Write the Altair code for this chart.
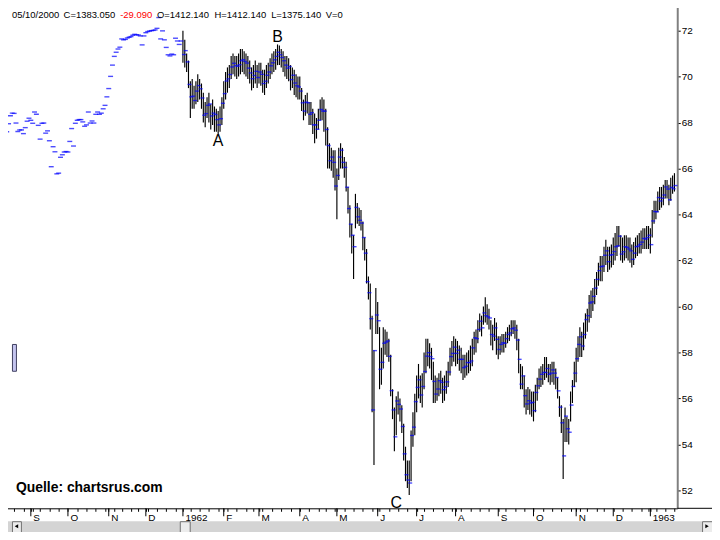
import json
import altair as alt
import pandas as pd

# ---------------- data ----------------
HOLIDAYS = ["1961-09-04", "1961-11-07", "1961-11-23", "1961-12-25",
            "1962-02-22", "1962-04-20", "1962-05-30", "1962-07-04",
            "1962-09-03", "1962-11-06", "1962-11-22", "1962-12-25", "1963-01-01"]

# Aug 11 - Dec 29 1961: closes only (blue dashes)
CLOSE_1961 = [67.71, 67.55, 67.60, 67.95, 68.30, 68.41, 68.40, 67.98, 67.61, 67.68,
              67.68, 67.52, 67.78, 68.06, 68.19, 68.10, 67.97, 68.46, 68.36, 67.88,
              67.28, 67.97, 67.98, 67.54, 67.64, 67.21, 66.08, 66.95, 66.73, 65.77,
              65.80, 66.49, 66.60, 66.72, 66.74, 66.72, 67.18, 67.74, 66.98, 67.97,
              68.10, 68.13, 68.13, 68.03, 67.84, 67.90, 68.46, 67.98, 68.07, 67.98,
              68.36, 68.46, 68.36, 68.41, 68.60, 68.75, 69.12, 69.48, 70.01, 70.50,
              70.88, 71.06, 71.20, 71.28, 71.64, 71.60, 71.62, 71.68, 71.71, 71.74,
              71.80, 71.84, 71.82, 71.81, 71.77, 71.38, 71.77, 71.91, 71.96, 71.98,
              72.00, 72.01, 72.03, 72.10, 72.57, 71.64, 71.99, 71.60, 71.27, 70.95,
              70.90, 70.98, 70.95, 71.67, 71.55, 71.40, 71.55]

C_1962_01 = [70.96, 71.13, 70.64, 69.66, 69.12, 69.15, 68.96, 69.37, 69.61, 69.47, 69.07,
             68.32, 68.39, 68.75, 68.81, 68.29, 68.41, 68.35, 68.13, 67.90, 68.17, 68.84]
H_1962_01 = [72.0, 71.6, 71.0, 70.7, 69.8, 69.9, 69.6, 69.8, 70.1, 69.9, 69.7,
             69.3, 68.9, 69.1, 69.3, 68.8, 69.0, 68.7, 68.6, 68.5, 68.7, 69.1]
L_1962_01 = [70.6, 70.4, 70.2, 69.5, 68.2, 68.6, 68.6, 68.8, 68.9, 69.0, 68.6,
             68.0, 67.8, 68.2, 68.0, 67.7, 67.9, 67.6, 67.6, 67.5, 67.6, 67.9]

C_1962_02 = [69.26, 69.81, 69.90, 70.09, 70.42, 70.58, 70.48, 70.45, 70.52, 70.69,
             70.74, 70.66, 70.59, 70.37, 70.16, 69.91, 70.05, 70.23, 69.96]
H_1962_02 = [69.8, 70.2, 70.4, 70.5, 70.9, 71.0, 70.9, 70.9, 71.0, 71.2,
             71.2, 71.1, 71.0, 70.9, 70.7, 70.4, 70.5, 70.7, 70.5]
L_1962_02 = [68.6, 69.0, 69.3, 69.5, 69.9, 70.1, 70.0, 69.9, 70.0, 70.1,
             70.2, 70.1, 70.0, 69.9, 69.7, 69.4, 69.5, 69.7, 69.5]

C_1962_03 = [70.20, 70.10, 69.70, 69.80, 70.06, 70.20, 70.47, 70.60, 70.73, 70.88, 71.06,
             70.95, 70.83, 70.69, 70.50, 70.37, 70.44, 69.87, 70.06, 69.72, 69.60, 69.55]
H_1962_03 = [70.6, 70.6, 70.3, 70.3, 70.5, 70.6, 70.8, 71.0, 71.1, 71.2, 71.4,
             71.35, 71.2, 71.1, 70.9, 70.9, 70.8, 70.5, 70.4, 70.3, 70.1, 70.0]
L_1962_03 = [69.7, 69.6, 69.3, 69.2, 69.5, 69.7, 69.9, 70.1, 70.2, 70.3, 70.5,
             70.5, 70.4, 70.2, 70.0, 69.9, 69.8, 69.4, 69.5, 69.2, 69.1, 69.0]

C_1962_04 = [69.37, 68.86, 68.50, 68.89, 68.86, 68.36, 68.43, 67.90, 67.90, 67.71,
             68.10, 68.57, 68.50, 68.50, 67.70, 67.00, 66.34, 66.50, 66.27, 65.24]
H_1962_04 = [70.0, 69.5, 69.0, 69.2, 69.3, 68.9, 68.9, 68.6, 68.4, 68.2,
             68.6, 69.0, 69.1, 69.0, 68.6, 67.8, 67.1, 66.9, 66.8, 66.8]
L_1962_04 = [69.0, 68.5, 68.1, 68.3, 68.4, 67.9, 67.9, 67.5, 67.1, 67.3,
             67.7, 68.1, 68.1, 67.6, 67.0, 66.0, 66.0, 65.9, 65.6, 65.05]

C_1962_05 = [65.70, 66.50, 66.80, 66.27, 66.05, 65.19, 64.26, 63.58, 63.10, 62.60, 64.31,
             63.90, 63.75, 63.63, 63.00, 62.32, 61.08, 60.60, 59.47, 55.50, 58.08, 59.63]
H_1962_05 = [66.0, 66.9, 67.1, 66.9, 66.5, 66.3, 65.2, 64.4, 63.6, 63.1, 64.9,
             64.5, 64.3, 64.2, 63.7, 63.0, 62.5, 61.3, 61.0, 59.6, 58.1, 60.8]
L_1962_05 = [63.8, 65.5, 66.0, 66.0, 65.6, 65.0, 64.05, 63.0, 62.3, 61.2, 63.4,
             63.6, 63.5, 63.3, 62.45, 62.0, 61.0, 60.3, 59.0, 55.4, 53.1, 58.8]

C_1962_06 = [59.38, 57.27, 57.57, 58.40, 58.45, 58.50, 57.83, 56.34, 55.50, 54.33, 55.89,
             55.74, 55.54, 54.78, 53.59, 52.68, 52.45, 52.32, 54.39, 54.75, 55.86]
H_1962_06 = [60.2, 59.1, 58.2, 59.1, 59.0, 58.9, 58.6, 57.9, 56.4, 55.6, 56.1,
             56.3, 56.0, 55.7, 54.9, 53.9, 53.3, 53.3, 54.6, 55.4, 56.2]
L_1962_06 = [58.8, 56.4, 56.6, 57.3, 57.9, 57.8, 57.6, 56.1, 55.1, 53.7, 54.4,
             55.3, 55.0, 54.5, 53.3, 52.4, 52.1, 51.8, 52.4, 53.9, 54.4]

C_1962_07 = [56.48, 56.81, 56.15, 56.52, 57.17, 57.84, 57.99, 57.82, 57.73, 56.74, 56.19,
             56.41, 56.77, 56.70, 56.38, 56.50, 56.72, 57.15, 57.82, 57.96, 58.23]
H_1962_07 = [57.0, 57.5, 57.0, 57.1, 58.0, 58.6, 58.6, 58.4, 58.2, 57.6, 57.0,
             56.9, 57.1, 57.2, 56.9, 57.0, 57.2, 57.6, 58.2, 58.5, 58.7]
L_1962_07 = [55.4, 56.0, 55.8, 55.6, 56.4, 57.1, 57.4, 57.3, 56.8, 55.8, 55.8,
             55.9, 56.1, 56.2, 55.8, 55.9, 56.2, 56.5, 57.0, 57.4, 57.6]

C_1962_08 = [57.96, 58.10, 57.70, 57.70, 57.34, 57.40, 57.56, 57.56, 57.63, 58.20, 58.64, 58.60,
             59.00, 59.36, 59.07, 59.72, 59.60, 59.55, 59.50, 58.78, 58.71, 59.07, 58.57]
H_1962_08 = [58.6, 58.5, 58.3, 58.2, 57.9, 57.9, 58.0, 58.1, 58.3, 58.6, 58.9, 59.0,
             59.4, 59.7, 59.6, 60.0, 60.4, 60.1, 59.9, 59.4, 59.2, 59.5, 59.3]
L_1962_08 = [57.4, 57.5, 57.2, 57.1, 56.8, 56.9, 57.0, 57.1, 57.2, 57.4, 57.9, 58.0,
             58.4, 58.9, 58.7, 59.2, 59.3, 59.2, 59.0, 58.3, 58.1, 58.5, 57.9]

C_1962_09 = [58.13, 58.35, 58.42, 58.40, 58.60, 58.78, 58.85, 59.03, 59.07, 58.97,
             58.54, 57.70, 56.62, 56.98, 56.12, 55.76, 55.90, 55.80, 55.83]
H_1962_09 = [58.7, 58.7, 58.8, 58.8, 58.9, 59.1, 59.2, 59.4, 59.4, 59.4,
             59.2, 58.6, 57.5, 57.4, 57.0, 56.4, 56.5, 56.4, 56.3]
L_1962_09 = [57.7, 57.9, 58.0, 58.0, 58.2, 58.4, 58.5, 58.7, 58.8, 58.6,
             58.1, 57.1, 56.4, 56.4, 55.6, 55.3, 55.5, 55.3, 55.2]

C_1962_10 = [55.47, 56.26, 56.55, 56.84, 57.05, 57.13, 57.13, 57.30, 57.05, 57.10, 57.24, 57.10,
             56.91, 56.33, 55.62, 54.94, 53.50, 55.23, 54.68, 54.53, 55.71, 56.52, 57.10]
H_1962_10 = [56.3, 56.6, 56.9, 57.3, 57.4, 57.5, 57.8, 57.8, 57.5, 57.5, 57.6, 57.6,
             57.3, 56.9, 56.1, 55.7, 55.1, 55.6, 55.2, 55.1, 56.3, 56.8, 57.6]
L_1962_10 = [55.0, 55.4, 55.9, 56.4, 56.5, 56.6, 56.8, 56.9, 56.7, 56.6, 56.7, 56.6,
             56.4, 56.0, 55.2, 54.5, 52.5, 54.1, 54.1, 54.0, 55.0, 55.8, 56.5]

C_1962_11 = [57.73, 58.35, 58.68, 58.28, 58.78, 59.43, 59.60, 60.15, 60.20, 60.44,
             60.80, 61.18, 61.56, 61.73, 61.76, 62.23, 62.42, 61.95, 62.23, 62.26]
H_1962_11 = [58.2, 58.7, 59.1, 58.9, 59.3, 59.7, 59.9, 60.5, 60.7, 60.8,
             61.2, 61.5, 61.9, 62.2, 62.2, 62.6, 62.9, 62.6, 62.6, 62.7]
L_1962_11 = [56.7, 57.6, 57.8, 57.8, 58.1, 58.6, 58.9, 59.3, 59.5, 59.8,
             60.1, 60.5, 60.9, 61.1, 61.1, 61.5, 61.8, 61.5, 61.6, 61.7]

C_1962_12 = [62.39, 62.60, 62.64, 63.06, 62.28, 62.38, 62.60, 62.57, 62.50, 62.42,
             62.05, 62.32, 62.60, 62.63, 62.70, 62.80, 62.96, 62.93, 63.00, 63.10]
H_1962_12 = [63.0, 63.2, 63.5, 63.5, 63.1, 63.0, 63.1, 63.1, 63.0, 63.0,
             62.7, 62.8, 63.0, 63.1, 63.2, 63.3, 63.4, 63.4, 63.5, 63.5]
L_1962_12 = [61.8, 62.0, 62.2, 62.6, 62.0, 61.9, 62.0, 62.1, 62.0, 61.9,
             61.7, 61.8, 62.1, 62.2, 62.3, 62.3, 62.5, 62.5, 62.5, 62.5]

C_1963_01 = [62.69, 63.72, 64.13, 64.12, 64.74, 64.59, 64.71, 64.85, 65.20, 65.11,
             64.64, 65.18, 65.12, 65.26]
H_1963_01 = [63.4, 64.2, 64.6, 64.6, 65.0, 65.2, 65.2, 65.3, 65.5, 65.5,
             65.3, 65.6, 65.7, 65.8]
L_1963_01 = [62.3, 63.0, 63.6, 63.8, 64.1, 64.2, 64.3, 64.4, 64.7, 64.7,
             64.4, 64.6, 64.9, 65.0]

LABEL_TEXT = ["A", "B", "C"]
LABEL_DATE = ["1962-01-29", "1962-03-15", "1962-06-15"]
LABEL_VALUE = [67.2, 71.7, 51.45]

Y_TICKS = [52, 54, 56, 58, 60, 62, 64, 66, 68, 70, 72]

HEADER_TEXT = ["05/10/2000", "C=1383.050", "-29.090", "O=1412.140",
               "H=1412.140", "L=1375.140", "V=0"]

# ---------------- assemble ----------------
CLOSES = (C_1962_01 + C_1962_02 + C_1962_03 + C_1962_04 + C_1962_05 + C_1962_06 +
          C_1962_07 + C_1962_08 + C_1962_09 + C_1962_10 + C_1962_11 + C_1962_12 + C_1963_01)
HIGHS = (H_1962_01 + H_1962_02 + H_1962_03 + H_1962_04 + H_1962_05 + H_1962_06 +
         H_1962_07 + H_1962_08 + H_1962_09 + H_1962_10 + H_1962_11 + H_1962_12 + H_1963_01)
LOWS = (L_1962_01 + L_1962_02 + L_1962_03 + L_1962_04 + L_1962_05 + L_1962_06 +
        L_1962_07 + L_1962_08 + L_1962_09 + L_1962_10 + L_1962_11 + L_1962_12 + L_1963_01)

days61 = pd.bdate_range("1961-08-11", "1961-12-29", freq="C", holidays=HOLIDAYS)
days62 = pd.bdate_range("1962-01-02", "1963-01-21", freq="C", holidays=HOLIDAYS)
assert len(days61) == len(CLOSE_1961), (len(days61), len(CLOSE_1961))
assert len(days62) == len(CLOSES) == len(HIGHS) == len(LOWS)

all_days = list(days61) + list(days62)
n61 = len(days61)
df61 = pd.DataFrame({"idx": range(n61), "close": CLOSE_1961})
df62 = pd.DataFrame({"idx": range(n61, n61 + len(days62)),
                     "high": HIGHS, "low": LOWS, "close": CLOSES})

month_idx, month_lab = [], []
prev = None
for i, d in enumerate(all_days):
    key = (d.year, d.month)
    if key != prev:
        if i > 0:
            month_idx.append(i)
            month_lab.append(str(d.year) if d.month == 1 else "JFMAMJJASOND"[d.month - 1])
        prev = key
week_idx = []
prevw = None
for i, d in enumerate(all_days):
    wk = tuple(d.isocalendar()[:2])
    if wk != prevw:
        week_idx.append(i)
        prevw = wk
tick_vals = sorted(set(week_idx) | set(month_idx))
months_df = pd.DataFrame({"idx": month_idx})

pos = {d.strftime("%Y-%m-%d"): i for i, d in enumerate(all_days)}
labels_df = pd.DataFrame({"t": LABEL_TEXT,
                          "idx": [pos[d] for d in LABEL_DATE],
                          "v": LABEL_VALUE})

# ---------------- chart ----------------
W, H = 678, 510
FONT = "Liberation Sans"
xs = alt.Scale(domain=[0.55, 363.5], nice=False, zero=False)
ys = alt.Scale(domain=[51.22, 73.25], nice=False, zero=False)

label_expr = f"{json.dumps(month_lab)}[indexof({json.dumps(month_idx)}, datum.value)] || ''"
x_axis = alt.Axis(values=tick_vals, labelExpr=label_expr, tickSize=3, tickColor="black",
                  domainColor="black", labelAlign="left", labelOffset=2, labelPadding=1,
                  labelFont=FONT, labelFontSize=10, labelColor="black", labelOverlap=False,
                  labelFlush=False, labelBound=False, grid=False, title=None)
y_axis = alt.Axis(orient="right", values=Y_TICKS, tickSize=3, tickColor="black",
                  domainColor="#808080", domainWidth=2, labelPadding=1, labelFont=FONT,
                  labelFontSize=10, labelColor="black", grid=False, title=None,
                  labelOverlap=False, labelFlush=False)

X = lambda f: alt.X(f, scale=xs, axis=x_axis)
Y = lambda f: alt.Y(f, scale=ys, axis=y_axis)

bars = alt.Chart(df62).mark_rule(color="black", strokeWidth=1.15).encode(
    x=X("idx:Q"), y=Y("low:Q"), y2="high:Q")

dash61 = alt.Chart(df61).mark_tick(orient="horizontal", size=5, thickness=1.4, color="#0000ff").encode(
    x=X("idx:Q"), y=Y("close:Q"))

closes = alt.Chart(df62).mark_tick(orient="horizontal", size=4, thickness=1.4, color="#0000ff",
                                   xOffset=1).encode(x=X("idx:Q"), y=Y("close:Q"))

month_ticks = alt.Chart(months_df).mark_rule(color="black", strokeWidth=1).encode(
    x=X("idx:Q"), y=alt.value(H), y2=alt.value(H + 8))

abc = alt.Chart(labels_df).mark_text(font=FONT, fontSize=16, color="black", baseline="middle").encode(
    x=X("idx:Q"), y=Y("v:Q"), text="t:N")

one = pd.DataFrame({"k": [0]})
header_x = [8, 60, 117, 154, 212, 269, 324]
header_c = ["black", "black", "#ff0000", "black", "black", "black", "black"]
header_layers = [
    alt.Chart(one).mark_text(text=t, font=FONT, fontSize=9.5, color=c, align="left",
                             baseline="top").encode(x=alt.value(px), y=alt.value(8))
    for t, px, c in zip(HEADER_TEXT, header_x, header_c)
]

source = alt.Chart(one).mark_text(text="Quelle: chartsrus.com", font=FONT, fontSize=14,
                                  fontWeight="bold", color="black", align="left",
                                  baseline="middle").encode(x=alt.value(12), y=alt.value(490))

axis_ext = alt.Chart(one).mark_rule(color="black", strokeWidth=1).encode(
    x=alt.value(W), x2=alt.value(720), y=alt.value(H))

SB_TOP, SB_BOT = 523, 540
scroll = alt.Chart(one).mark_rect(color="#d4d4d4").encode(
    x=alt.value(0), x2=alt.value(720), y=alt.value(SB_TOP), y2=alt.value(SB_BOT))
btn_l = alt.Chart(one).mark_rect(fill="#ececec", stroke="#707070", strokeWidth=1).encode(
    x=alt.value(8.5), x2=alt.value(17.5), y=alt.value(SB_TOP + 0.5), y2=alt.value(SB_BOT - 0.5))
btn_r = alt.Chart(one).mark_rect(fill="#ececec", stroke="#707070", strokeWidth=1).encode(
    x=alt.value(703.5), x2=alt.value(719.5), y=alt.value(SB_TOP + 0.5), y2=alt.value(SB_BOT - 0.5))
thumb = alt.Chart(one).mark_rect(fill="#ececec", stroke="#707070", strokeWidth=1).encode(
    x=alt.value(177.5), x2=alt.value(187.5), y=alt.value(SB_TOP + 0.5), y2=alt.value(SB_BOT - 0.5))
arr_l = alt.Chart(one).mark_point(shape="triangle-left", filled=True, size=16, color="black",
                                  opacity=1).encode(x=alt.value(12.5), y=alt.value(528))
arr_r = alt.Chart(one).mark_point(shape="triangle-right", filled=True, size=16, color="black",
                                  opacity=1).encode(x=alt.value(708), y=alt.value(528))
side_btn = alt.Chart(one).mark_rect(fill="#c4c4ee", stroke="#404060", strokeWidth=1).encode(
    x=alt.value(8.5), x2=alt.value(12.5), y=alt.value(345), y2=alt.value(372))

chart = alt.layer(
    bars, dash61, closes, month_ticks, abc, *header_layers, source, axis_ext,
    scroll, btn_l, btn_r, thumb, arr_l, arr_r, side_btn
).properties(
    width=W, height=H, background="white",
    padding={"left": -8, "top": -8, "right": -8, "bottom": -8},
).configure_view(stroke=None)

chart.save("out.html", embed_options={"renderer": "svg", "actions": False})
